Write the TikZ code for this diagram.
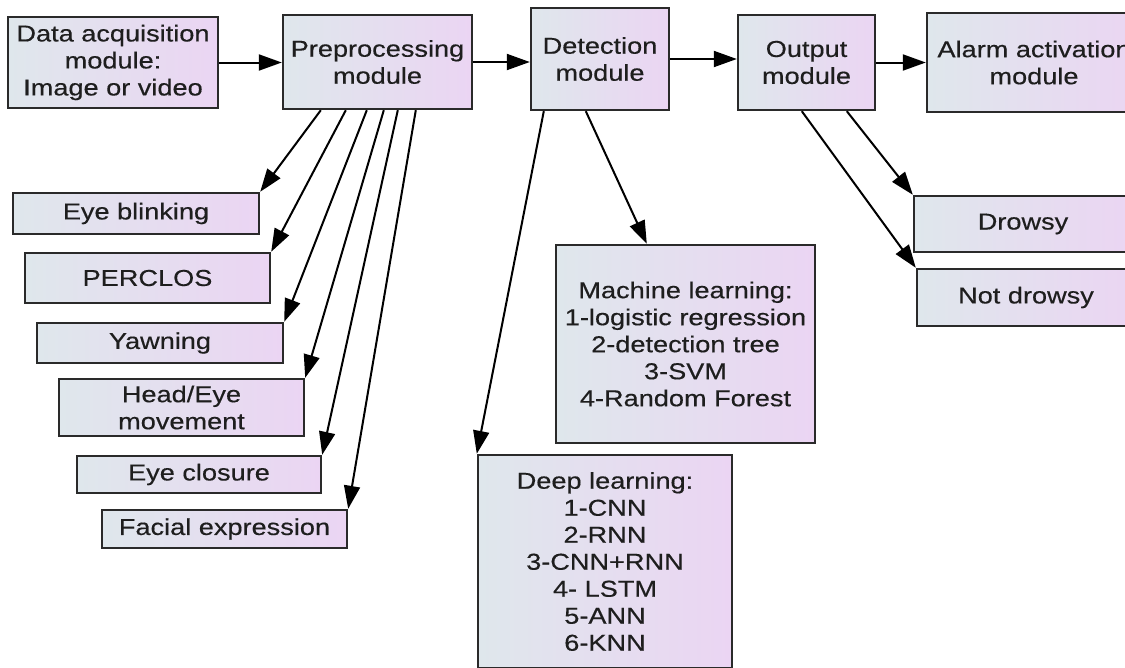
\documentclass[tikz,border=0pt]{standalone}
\usepackage{fontspec}
\setmainfont{Liberation Sans}[FakeStretch=1.18,FakeBold=0.4]
\usetikzlibrary{arrows.meta}
\definecolor{boxleft}{HTML}{DFE7EC}
\definecolor{boxright}{HTML}{EBD5F3}
\definecolor{edge}{HTML}{2A2A2A}
\definecolor{txt}{HTML}{1E1E1E}
\tikzset{
  modbox/.style={draw=edge, line width=2.4pt, left color=boxleft, right color=boxright,
    inner sep=0pt, align=center, text=txt, font=\fontsize{23}{27}\selectfont},
  arr/.style={draw=black, line width=2pt, -{Triangle[length=23pt,width=16pt]}}
}
\begin{document}
\begin{tikzpicture}[x=1pt,y=-1pt]
\useasboundingbox (0,0) rectangle (1125,667);
\clip (0,0) rectangle (1125,667);
% top row
\node[modbox, minimum width=210pt, minimum height=91pt] (da) at (113,62.5) {Data acquisition\\module:\\Image or video};
\node[modbox, minimum width=189pt, minimum height=94pt] (pre) at (377.5,62) {Preprocessing\\module};
\node[modbox, minimum width=138pt, minimum height=102pt] (det) at (600,59) {Detection\\module};
\node[modbox, minimum width=137pt, minimum height=95pt] (out) at (806.5,62.5) {Output\\module};
\node[modbox, minimum width=214pt, minimum height=99pt] (alarm) at (1034,62.5) {Alarm activation\\module};
% feature boxes
\node[modbox, minimum width=246pt, minimum height=41pt] (eb) at (136,213.5) {Eye blinking};
\node[modbox, minimum width=245pt, minimum height=50pt] (perc) at (147.5,278) {PERCLOS};
\node[modbox, minimum width=246pt, minimum height=40pt] (yawn) at (160,343) {Yawning};
\node[modbox, minimum width=245pt, minimum height=57pt] (head) at (181.5,407.5) {Head/Eye\\movement};
\node[modbox, minimum width=244pt, minimum height=37pt] (ec) at (199,474.5) {Eye closure};
\node[modbox, minimum width=245pt, minimum height=38pt] (fe) at (224.5,529) {Facial expression};
% detection outputs
\node[modbox, minimum width=259pt, minimum height=198pt] (ml) at (685.5,344) {Machine learning:\\1-logistic regression\\2-detection tree\\3-SVM\\4-Random Forest};
\node[modbox, minimum width=254pt, minimum height=213pt] (dl) at (605,561.5) {Deep learning:\\1-CNN\\2-RNN\\3-CNN+RNN\\4- LSTM\\5-ANN\\6-KNN};
% output results
\node[modbox, minimum width=218pt, minimum height=56pt] (drowsy) at (1023,224) {Drowsy};
\node[modbox, minimum width=218pt, minimum height=57pt] (notd) at (1026,297.5) {Not drowsy};
% main flow
\draw[arr] (da.east) -- (da.east -| pre.west);
\draw[arr] (pre.east) -- (pre.east -| det.west);
\draw[arr] (det.east) -- (det.east -| out.west);
\draw[arr] (out.east) -- (out.east -| alarm.west);
% preprocessing branches
\draw[arr] ([xshift=39pt]pre.south west) -- (eb.north east);
\draw[arr] ([xshift=64pt]pre.south west) -- (perc.north east);
\draw[arr] ([xshift=85pt]pre.south west) -- (yawn.north east);
\draw[arr] ([xshift=102pt]pre.south west) -- (head.north east);
\draw[arr] ([xshift=116pt]pre.south west) -- (ec.north east);
\draw[arr] ([xshift=134pt]pre.south west) -- (fe.north east);
% detection branches
\draw[arr] ([xshift=14pt]det.south west) -- (dl.north west);
\draw[arr] ([xshift=56pt]det.south west) -- ([xshift=92pt]ml.north west);
% output branches
\draw[arr] ([xshift=65pt]out.south west) -- (notd.north west);
\draw[arr] ([xshift=110pt]out.south west) -- (drowsy.north west);
\end{tikzpicture}
\end{document}
